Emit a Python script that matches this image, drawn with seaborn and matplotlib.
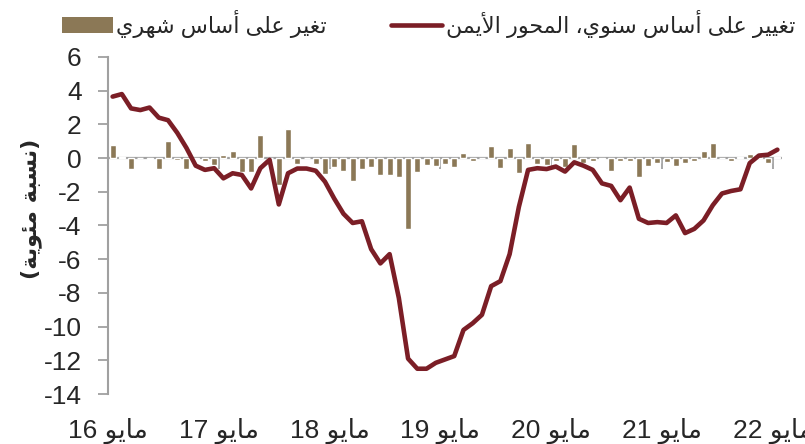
import re
import pandas as pd
import matplotlib
matplotlib.use("Agg")
import matplotlib.pyplot as plt
from matplotlib.patches import Patch
from matplotlib.lines import Line2D
import seaborn as sns

# monthly categories, May 2016 .. May 2022
months = pd.period_range("2016-05", "2022-05", freq="M")

# year-on-year change (right axis in the original), percent
yoy = [3.65, 3.8, 2.95, 2.85, 3.0, 2.4, 2.25, 1.5, 0.6, -0.45,
       -0.7, -0.6, -1.2, -0.9, -1.0, -1.8, -0.6, -0.1, -2.75, -0.9,
       -0.62, -0.62, -0.75, -1.4, -2.4, -3.3, -3.85, -3.75, -5.4, -6.25,
       -5.7, -8.3, -11.9, -12.5, -12.5, -12.15, -11.95, -11.75, -10.2, -9.8,
       -9.3, -7.6, -7.3, -5.7, -2.9, -0.7, -0.6, -0.65, -0.5, -0.8,
       -0.25, -0.45, -0.7, -1.5, -1.65, -2.5, -1.75, -3.6, -3.85, -3.8,
       -3.85, -3.4, -4.45, -4.2, -3.7, -2.8, -2.1, -1.95, -1.85, -0.3,
       0.15, 0.2, 0.5]

# month-on-month change, percent
mom = [0.8, 0.05, -0.65, 0.0, -0.05, -0.65, 1.0, -0.1, -0.65, -0.05,
       -0.15, -0.4, 0.2, 0.4, -0.8, -0.8, 1.35, 0.0, -1.6, 1.75,
       -0.35, 0.0, -0.35, -0.95, -0.55, -0.75, -1.35, -0.65, -0.55, -1.0,
       -1.0, -1.1, -4.2, -0.8, -0.4, -0.45, -0.35, -0.5, 0.3, -0.2,
       0.0, 0.7, -0.6, 0.6, -0.9, 0.9, -0.35, -0.4, -0.2, -0.5,
       0.85, -0.3, -0.2, -0.05, -0.75, -0.2, -0.2, -1.15, -0.45, -0.3,
       -0.25, -0.45, -0.3, -0.15, 0.4, 0.9, 0.0, -0.15, 0.05, 0.25,
       0.15, -0.3, 0.05]

tick_labels = ["مايو 16", "مايو 17", "مايو 18", "مايو 19", "مايو 20", "مايو 21", "مايو 22"]
label_mom = "تغير على أساس شهري"
label_yoy = "تغيير على أساس سنوي، المحور الأيمن"
y_label = "(نسبة مئوية)"

bar_color = "#8B7856"
line_color = "#7B1E26"
grey = "#A0A0A0"

# matplotlib has no arabic shaping, so pick presentation forms by hand
FORMS = {
    "ا": ("\uFE8D", "\uFE8E"), "أ": ("\uFE83", "\uFE84"),
    "ب": ("\uFE8F", "\uFE90", "\uFE91", "\uFE92"), "ة": ("\uFE93", "\uFE94"),
    "ت": ("\uFE95", "\uFE96", "\uFE97", "\uFE98"), "ح": ("\uFEA1", "\uFEA2", "\uFEA3", "\uFEA4"),
    "ر": ("\uFEAD", "\uFEAE"), "س": ("\uFEB1", "\uFEB2", "\uFEB3", "\uFEB4"),
    "ش": ("\uFEB5", "\uFEB6", "\uFEB7", "\uFEB8"), "ع": ("\uFEC9", "\uFECA", "\uFECB", "\uFECC"),
    "غ": ("\uFECD", "\uFECE", "\uFECF", "\uFED0"), "ل": ("\uFEDD", "\uFEDE", "\uFEDF", "\uFEE0"),
    "م": ("\uFEE1", "\uFEE2", "\uFEE3", "\uFEE4"), "ن": ("\uFEE5", "\uFEE6", "\uFEE7", "\uFEE8"),
    "ه": ("\uFEE9", "\uFEEA", "\uFEEB", "\uFEEC"), "و": ("\uFEED", "\uFEEE"),
    "ى": ("\uFEEF", "\uFEF0"), "ي": ("\uFEF1", "\uFEF2", "\uFEF3", "\uFEF4"),
    "ئ": ("\uFE89", "\uFE8A", "\uFE8B", "\uFE8C"),
    "لا": ("\uFEFB", "\uFEFC"), "لأ": ("\uFEF7", "\uFEF8"),
}


def ar(s):
    toks = []
    i = 0
    while i < len(s):
        if s[i] == "ل" and i + 1 < len(s) and s[i + 1] in "اأ":
            toks.append(s[i:i + 2])
            i += 2
        else:
            toks.append(s[i])
            i += 1
    out = []
    for k, t in enumerate(toks):
        f = FORMS.get(t)
        if f is None:
            out.append(t)
            continue
        prev = toks[k - 1] if k > 0 else None
        nxt = toks[k + 1] if k + 1 < len(toks) else None
        jp = prev in FORMS and len(FORMS[prev]) == 4
        jn = len(f) == 4 and nxt in FORMS
        if jp and jn:
            out.append(f[3])
        elif jp:
            out.append(f[1])
        elif jn:
            out.append(f[2])
        else:
            out.append(f[0])
    v = "".join(out)[::-1]
    v = re.sub(r"[0-9]+", lambda m: m.group(0)[::-1], v)
    return v.translate(str.maketrans("()", ")("))


df = pd.DataFrame({"x": range(len(months)), "yoy": yoy, "mom": mom})

sns.set_style("white")
plt.rcParams["font.family"] = ["Liberation Sans", "DejaVu Sans"]
plt.rcParams["axes.unicode_minus"] = False

fig = plt.figure(figsize=(8.05, 4.44), dpi=100)
ax = fig.add_axes([108 / 805, 50 / 444, 674 / 805, 337 / 444])

sns.barplot(data=df, x="x", y="mom", color=bar_color, saturation=1, width=0.65,
            native_scale=True, ax=ax, zorder=2)
ax.axhline(0, color=grey, lw=1.6, zorder=1)
sns.lineplot(data=df, x="x", y="yoy", color=line_color, lw=3.3, ax=ax, zorder=3)
ax.lines[-1].set_solid_joinstyle("round")
ax.lines[-1].set_solid_capstyle("round")

ax.set_xlim(-0.5, len(months) - 0.5)
ax.set_ylim(-14, 6)
ax.set_yticks(range(-14, 7, 2))
ax.tick_params(axis="y", labelsize=19, length=7, width=1.3, color=grey, direction="out", pad=12, left=True)

# ticks sit on the zero line, labels at the bottom
ax.spines[["top", "right"]].set_visible(False)
ax.spines["bottom"].set_position(("data", 0))
ax.spines["bottom"].set_visible(False)
ax.spines["left"].set_color(grey)
ax.spines["left"].set_linewidth(1.5)
ticks = [-0.5 + 12 * k for k in range(len(tick_labels))]
ax.set_xticks(ticks)
ax.set_xticklabels([])
ax.tick_params(axis="x", length=8, width=1.3, color=grey, direction="out", bottom=True)

sec = ax.secondary_xaxis("bottom")
sec.set_xticks(ticks)
sec.set_xticklabels([ar(t) for t in tick_labels], fontsize=19)
sec.tick_params(length=0, pad=17)
sec.spines["bottom"].set_visible(False)

ax.set_xlabel("")
ax.set_ylabel(ar(y_label), fontsize=16, fontweight="bold", family=["DejaVu Sans"])
ax.yaxis.set_label_coords(-0.098, 0.55)

handles = [Patch(facecolor=bar_color, edgecolor="none"),
           Line2D([], [], color=line_color, lw=3.3)]
fig.legend(handles, [ar(label_mom), ar(label_yoy)], loc="upper right",
           bbox_to_anchor=(1.0, 1.0), ncol=2, frameon=False, fontsize=16,
           handlelength=2.3, handleheight=0.7, handletextpad=0.15, columnspacing=2.9,
           borderaxespad=0.05)

fig.savefig("out.png", dpi=100)
